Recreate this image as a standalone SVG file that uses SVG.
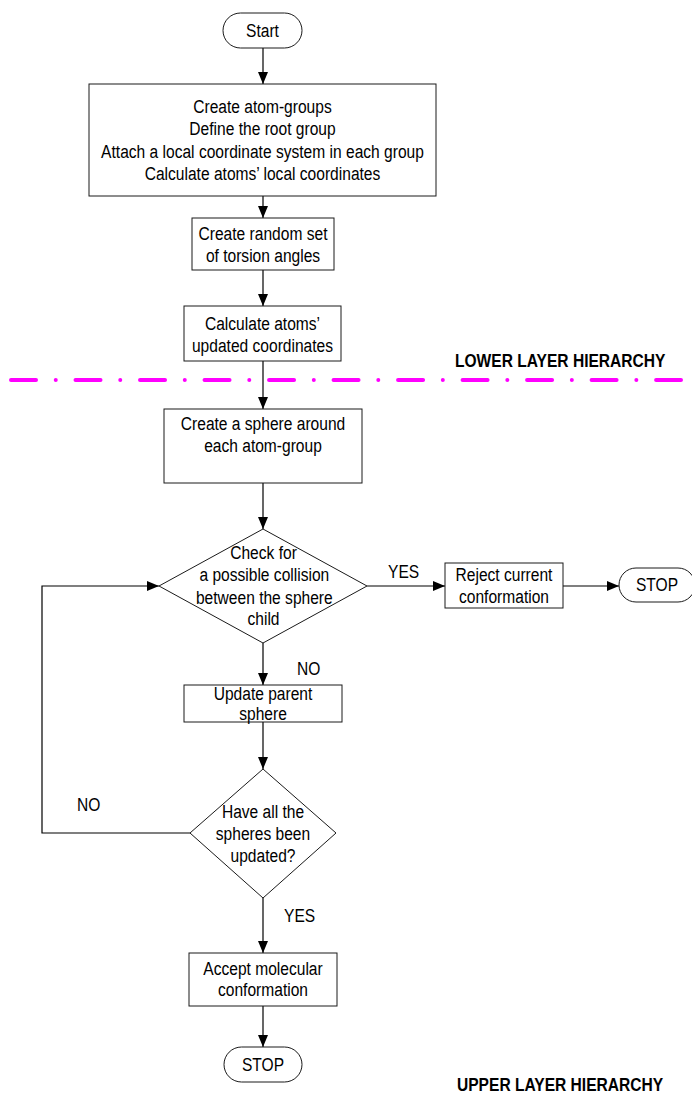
<svg xmlns="http://www.w3.org/2000/svg" width="692" height="1099" viewBox="0 0 692 1099">
  <style>
    /* condensed sans: regular sans squeezed horizontally by each text's transform */
    .shape { fill: #ffffff; stroke: #1a1a1a; stroke-width: 1; }
    .lbl { font-family: "Liberation Sans", Arial, sans-serif; font-size: 19px; fill: #000; text-anchor: middle; }
    .tag { font-family: "Liberation Sans", Arial, sans-serif; font-size: 19px; fill: #000; }
    .layer { font-family: "Liberation Sans", Arial, sans-serif; font-size: 19px; font-weight: bold; fill: #000; }
    .wire { fill: none; stroke: #000; stroke-width: 1.2; }
    .divider { fill: none; stroke: #ff00ff; stroke-width: 4; stroke-linecap: round; stroke-dasharray: 25 19.75 0.01 19.75; }
  </style>
  <defs>
    <marker id="arrow" markerUnits="userSpaceOnUse" markerWidth="12" markerHeight="10" refX="12" refY="5" orient="auto">
      <path d="M0,0 L12,5 L0,10 z" fill="#000"/>
    </marker>
  </defs>

  <rect width="692" height="1099" fill="#ffffff"/>

  <!-- layer divider and captions -->
  <g id="layers">
    <path class="divider" d="M11,380 H681"/>
    <text class="layer" x="0" y="367" transform="translate(455,0) scale(0.82,1)">LOWER LAYER HIERARCHY</text>
    <text class="layer" x="0" y="1091" transform="translate(457,0) scale(0.82,1)">UPPER LAYER HIERARCHY</text>
  </g>

  <!-- connectors -->
  <g id="connectors">
    <path class="wire" d="M263,48 V84" marker-end="url(#arrow)"/>
    <path class="wire" d="M263,196 V218" marker-end="url(#arrow)"/>
    <path class="wire" d="M263,270 V306" marker-end="url(#arrow)"/>
    <path class="wire" d="M263,361 V409" marker-end="url(#arrow)"/>
    <path class="wire" d="M263,483 V529" marker-end="url(#arrow)"/>
    <path class="wire" d="M367,586 H445" marker-end="url(#arrow)"/>
    <path class="wire" d="M563,586 H619" marker-end="url(#arrow)"/>
    <path class="wire" d="M263,643 V685" marker-end="url(#arrow)"/>
    <path class="wire" d="M263,722 V769" marker-end="url(#arrow)"/>
    <path class="wire" d="M190,833 H42 V586 H159" marker-end="url(#arrow)"/>
    <path class="wire" d="M263,898 V953" marker-end="url(#arrow)"/>
    <path class="wire" d="M263,1006 V1047" marker-end="url(#arrow)"/>
    <text class="tag" x="0" y="578" transform="translate(388,0) scale(0.82,1)">YES</text>
    <text class="tag" x="0" y="675" transform="translate(297,0) scale(0.82,1)">NO</text>
    <text class="tag" x="0" y="811" transform="translate(77,0) scale(0.82,1)">NO</text>
    <text class="tag" x="0" y="922" transform="translate(284,0) scale(0.82,1)">YES</text>
  </g>

  <g id="start">
    <rect class="shape" x="223" y="13" width="79" height="35" rx="17.5"/>
    <g transform="translate(262.5,0) scale(0.82,1)">
      <text class="lbl" x="0" y="37">Start</text>
    </g>
  </g>

  <g id="setup-groups">
    <rect class="shape" x="89" y="84" width="347" height="112"/>
    <g transform="translate(262.5,0) scale(0.82,1)">
      <text class="lbl" x="0" y="113">Create atom-groups</text>
      <text class="lbl" x="0" y="135.5">Define the root group</text>
      <text class="lbl" x="0" y="158">Attach a local coordinate system in each group</text>
      <text class="lbl" x="0" y="180.5">Calculate atoms’ local coordinates</text>
    </g>
  </g>

  <g id="random-torsion">
    <rect class="shape" x="192" y="218" width="142" height="52"/>
    <g transform="translate(263,0) scale(0.82,1)">
      <text class="lbl" x="0" y="240">Create random set</text>
      <text class="lbl" x="0" y="262">of torsion angles</text>
    </g>
  </g>

  <g id="update-coords">
    <rect class="shape" x="184" y="306" width="157" height="55"/>
    <g transform="translate(262.5,0) scale(0.82,1)">
      <text class="lbl" x="0" y="330">Calculate atoms’</text>
      <text class="lbl" x="0" y="352">updated coordinates</text>
    </g>
  </g>

  <g id="create-spheres">
    <rect class="shape" x="164" y="409" width="198" height="74"/>
    <g transform="translate(263,0) scale(0.82,1)">
      <text class="lbl" x="0" y="430">Create a sphere around</text>
      <text class="lbl" x="0" y="452">each atom-group</text>
    </g>
  </g>

  <g id="collision-check">
    <polygon class="shape" points="263,529 367,586 263,643 159,586"/>
    <g transform="translate(263.5,0) scale(0.82,1)">
      <text class="lbl" x="0" y="559">Check for</text>
      <text class="lbl" x="1" y="581">a possible collision</text>
      <text class="lbl" x="1" y="604">between the sphere</text>
      <text class="lbl" x="0" y="625">child</text>
    </g>
  </g>

  <g id="reject">
    <rect class="shape" x="445" y="563" width="118" height="45"/>
    <g transform="translate(504,0) scale(0.82,1)">
      <text class="lbl" x="0" y="581">Reject current</text>
      <text class="lbl" x="0" y="603">conformation</text>
    </g>
  </g>

  <g id="stop-reject">
    <rect class="shape" x="619" y="568" width="76" height="34" rx="17"/>
    <g transform="translate(657,0) scale(0.82,1)">
      <text class="lbl" x="0" y="591">STOP</text>
    </g>
  </g>

  <g id="update-parent">
    <rect class="shape" x="184" y="685" width="158" height="37"/>
    <g transform="translate(263,0) scale(0.82,1)">
      <text class="lbl" x="0" y="700">Update parent</text>
      <text class="lbl" x="0" y="720">sphere</text>
    </g>
  </g>

  <g id="all-updated">
    <polygon class="shape" points="263,769 336,833 263,898 190,833"/>
    <g transform="translate(263,0) scale(0.82,1)">
      <text class="lbl" x="0" y="818">Have all the</text>
      <text class="lbl" x="0" y="840">spheres been</text>
      <text class="lbl" x="0" y="862">updated?</text>
    </g>
  </g>

  <g id="accept">
    <rect class="shape" x="189" y="953" width="148" height="53"/>
    <g transform="translate(263,0) scale(0.82,1)">
      <text class="lbl" x="0" y="975">Accept molecular</text>
      <text class="lbl" x="0" y="996">conformation</text>
    </g>
  </g>

  <g id="stop-accept">
    <rect class="shape" x="224" y="1047" width="78" height="35" rx="17.5"/>
    <g transform="translate(263,0) scale(0.82,1)">
      <text class="lbl" x="0" y="1071">STOP</text>
    </g>
  </g>
</svg>
